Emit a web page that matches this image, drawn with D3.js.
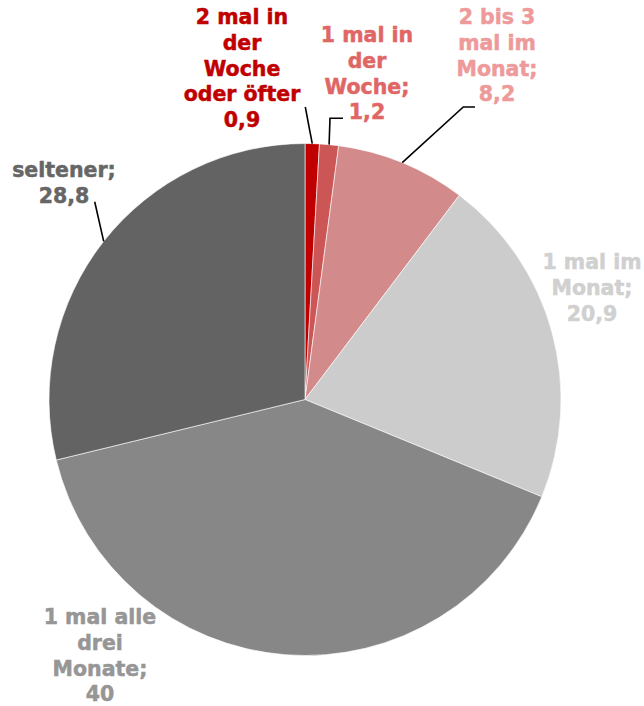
<!DOCTYPE html>
<html>
<head>
<meta charset="utf-8">
<script src="https://cdn.jsdelivr.net/npm/d3@7/dist/d3.min.js"></script>
<style>
  html, body { margin: 0; padding: 0; background: #ffffff; }
  svg { display: block; }
  text { font-family: "DejaVu Sans", Verdana, sans-serif; font-weight: bold; }
</style>
</head>
<body>
<svg id="chart" width="644" height="706"></svg>
<script>
// ---- data ----
const categories = [
  "2 mal in der Woche oder öfter",
  "1 mal in der Woche",
  "2 bis 3 mal im Monat",
  "1 mal im Monat",
  "1 mal alle drei Monate",
  "seltener"
];
const values = [0.9, 1.2, 8.2, 20.9, 40, 28.8];
const valueLabels = ["0,9", "1,2", "8,2", "20,9", "40", "28,8"];
// label text lines as printed on chart
const labelLines = [
  ["2 mal in", "der", "Woche", "oder öfter", "0,9"],
  ["1 mal in", "der", "Woche;", "1,2"],
  ["2 bis 3", "mal im", "Monat;", "8,2"],
  ["1 mal im", "Monat;", "20,9"],
  ["1 mal alle", "drei", "Monate;", "40"],
  ["seltener;", "28,8"]
];

// ---- styles / layout ----
const sliceColors = ["#C00000", "#CC5555", "#D38A8A", "#CCCCCC", "#878787", "#636363"];
const textColors  = ["#C00000", "#E06666", "#EE9A9A", "#D0D0D0", "#969696", "#666666"];
const cx = 305, cy = 399.5, R = 256;
const fontSize = 20.5, lineH = 25.6;
// label block: center x, first-line center y
const labelPos = [
  [242, 17], [367, 35], [497, 17], [592, 262], [100, 617], [64, 170]
];
// leader line end points (label side), null = none; optional elbow
const leaders = [
  [[305.3, 107]],
  [[330, 118.3], [343, 118.3]],
  [[463.3, 107], [475, 107]],
  null,
  null,
  [[94.7, 201.7]]
];

const svg = d3.select("#chart");
const g = svg.append("g").attr("transform", `translate(${cx},${cy})`);

const pie = d3.pie().sort(null).value(d => d).startAngle(0).endAngle(2 * Math.PI);
const arcs = pie(values);
const arc = d3.arc().innerRadius(0).outerRadius(R);

g.selectAll("path.slice")
  .data(arcs)
  .enter().append("path")
  .attr("class", "slice")
  .attr("d", arc)
  .attr("fill", (d, i) => sliceColors[i])
  .attr("stroke", "#ffffff")
  .attr("stroke-width", 0.6);

// leader lines
arcs.forEach((d, i) => {
  if (!leaders[i]) return;
  const a = (d.startAngle + d.endAngle) / 2;
  const sx = cx + R * Math.sin(a), sy = cy - R * Math.cos(a);
  const pts = [[sx, sy]].concat(leaders[i]);
  svg.append("path")
    .attr("d", d3.line()(pts))
    .attr("fill", "none")
    .attr("stroke", "#000000")
    .attr("stroke-width", 1.6);
});

// labels
labelLines.forEach((lines, i) => {
  const t = svg.append("text")
    .attr("text-anchor", "middle")
    .attr("font-size", fontSize)
    .attr("fill", textColors[i])
    .attr("stroke", textColors[i])
    .attr("stroke-width", 0.5);
  lines.forEach((ln, j) => {
    t.append("tspan")
      .attr("x", labelPos[i][0])
      .attr("y", labelPos[i][1] + j * lineH)
      .attr("dy", "0.36em")
      .text(ln);
  });
});
</script>
</body>
</html>
